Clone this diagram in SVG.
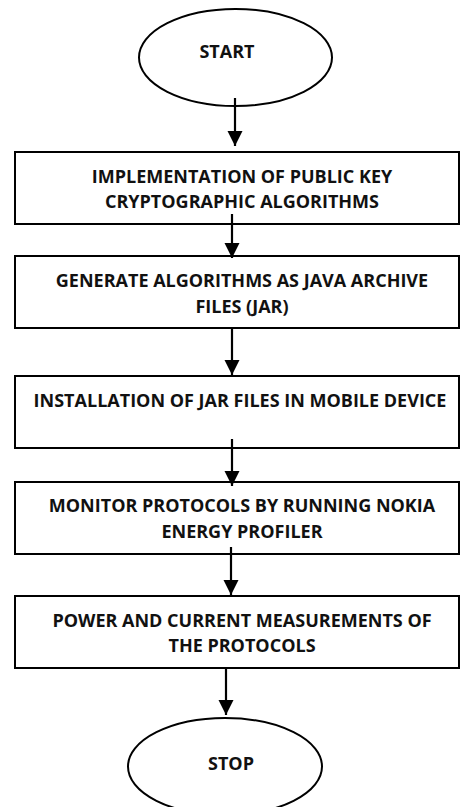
<svg xmlns="http://www.w3.org/2000/svg" width="460" height="807" viewBox="0 0 460 807">
<style>
.shape{fill:#fff;stroke:#000;stroke-width:2}
.t{font-family:"Open Sans","DejaVu Sans",sans-serif;font-weight:bold;font-size:18px;fill:#111;text-anchor:middle}
.c{stroke:#000;stroke-width:2.2;fill:none;marker-end:url(#ah)}
</style>
<defs>
<marker id="ah" markerUnits="userSpaceOnUse" markerWidth="16" markerHeight="16" viewBox="0 0 16 16" refX="15" refY="7.5" orient="auto">
<path d="M0,0 L15,7.5 L0,15 z" fill="#000"/>
</marker>
</defs>
<g id="start">
<ellipse class="shape" cx="235.5" cy="57.5" rx="96.5" ry="48.5"/>
<text class="t" x="227" y="58">START</text>
</g>
<g id="box1">
<rect class="shape" x="15" y="152" width="444" height="72"/>
<text class="t" x="242" y="183">IMPLEMENTATION OF PUBLIC KEY</text>
<text class="t" x="242" y="208">CRYPTOGRAPHIC ALGORITHMS</text>
</g>
<g id="box2">
<rect class="shape" x="15" y="256" width="444" height="72"/>
<text class="t" x="242" y="287">GENERATE ALGORITHMS AS JAVA ARCHIVE</text>
<text class="t" x="242" y="313">FILES (JAR)</text>
</g>
<g id="box3">
<rect class="shape" x="15" y="376" width="444" height="72"/>
<text class="t" x="240" y="407">INSTALLATION OF JAR FILES IN MOBILE DEVICE</text>
</g>
<g id="box4">
<rect class="shape" x="15" y="482" width="444" height="72"/>
<text class="t" x="242" y="512">MONITOR PROTOCOLS BY RUNNING NOKIA</text>
<text class="t" x="242" y="538">ENERGY PROFILER</text>
</g>
<g id="box5">
<rect class="shape" x="15" y="596" width="444" height="72"/>
<text class="t" x="242" y="627">POWER AND CURRENT MEASUREMENTS OF</text>
<text class="t" x="242" y="652">THE PROTOCOLS</text>
</g>
<g id="stop">
<ellipse class="shape" cx="225" cy="766.5" rx="97" ry="48.5"/>
<text class="t" x="231" y="770">STOP</text>
</g>
<g id="connectors">
<line class="c" x1="235" y1="98" x2="235" y2="146"/>
<line class="c" x1="232" y1="214" x2="232" y2="258"/>
<line class="c" x1="232" y1="328" x2="232" y2="375"/>
<line class="c" x1="232" y1="439" x2="232" y2="486"/>
<line class="c" x1="231" y1="547" x2="231" y2="595"/>
<line class="c" x1="226" y1="667" x2="226" y2="715"/>
</g>
</svg>
